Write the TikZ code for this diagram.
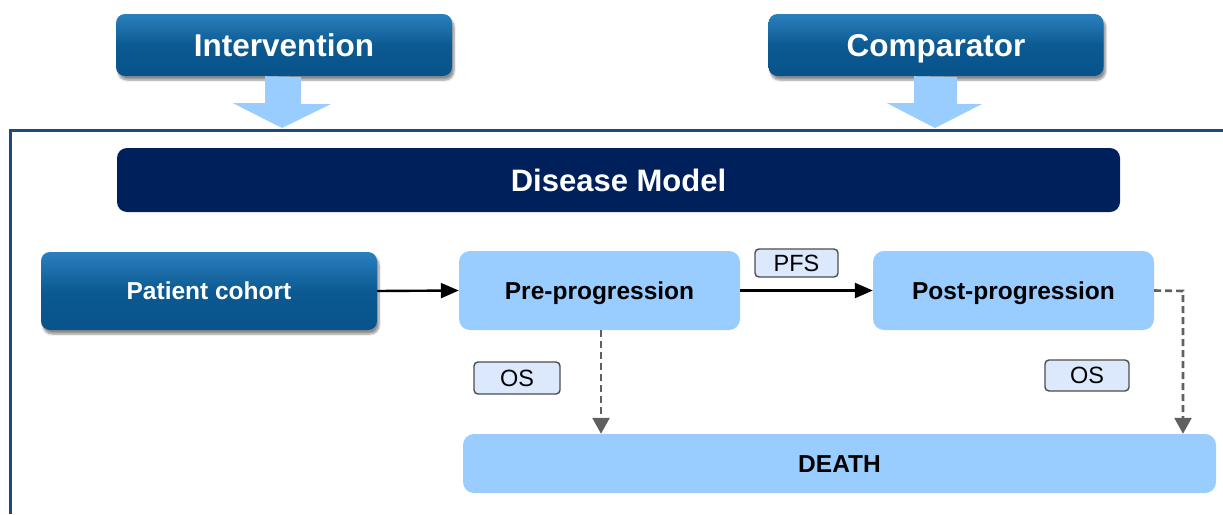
\documentclass[tikz,border=0pt]{standalone}
\usepackage{fontspec}
\setmainfont{Liberation Sans}
\usetikzlibrary{arrows.meta,shadows.blur}
\definecolor{boxtop}{HTML}{2A80BE}
\definecolor{boxbot}{HTML}{07538A}
\definecolor{navy}{HTML}{00205B}
\definecolor{framec}{HTML}{1F497D}
\definecolor{lightb}{HTML}{99CCFF}
\definecolor{tagfill}{HTML}{DCE8FC}
\definecolor{dashc}{HTML}{606060}
\tikzset{
  bigtext/.style={font=\fontsize{31.5}{34}\selectfont\bfseries, text height=22.6pt, text depth=0pt},
  midtext/.style={font=\fontsize{24.5}{28}\selectfont\bfseries, text height=17.5pt, text depth=0pt},
  bluebox/.style={rounded corners=9pt, top color=boxtop, bottom color=boxbot, middle color=boxbot!85!boxtop,
    text=white, inner sep=0pt,
    blur shadow={shadow xshift=2pt, shadow yshift=-4pt, shadow blur steps=6, shadow opacity=45}},
  statebox/.style={rounded corners=11pt, fill=lightb, text=black, midtext, inner sep=0pt},
  tagbox/.style={rounded corners=4pt, fill=tagfill, draw=black!70, line width=1.4pt, font=\fontsize{23.5}{26}\selectfont, text height=16.8pt, text depth=0pt, inner sep=0pt},
  solidarrow/.style={line width=2.4pt, -{Triangle[width=15pt,length=18pt]}},
  dasharrow/.style={draw=dashc, line width=2.6pt, dash pattern=on 7pt off 4pt, -{Triangle[width=17pt,length=16pt,fill=dashc]}},
  blockarrow/.style={fill=lightb, draw=none}
}
\begin{document}
\begin{tikzpicture}[x=1pt,y=-1pt]
\useasboundingbox (0,0) rectangle (1223,514);
% frame
\draw[framec, line width=3pt] (10,514) -- (10,130) -- (1223,130);
% top boxes
\node[bluebox, bigtext, minimum width=336pt, minimum height=62pt] (int) at (284,45) {Intervention};
\node[bluebox, bigtext, minimum width=335pt, minimum height=62pt] (comp) at (936,45) {Comparator};
% block arrows
\fill[blockarrow] (int.south) ++(-19,0) -- ++(0,27) -- ++(-32,0) -- (282,128) -- (331,104) -- ++(-30,0) -- ++(0,-27) -- cycle;
\fill[blockarrow] (comp.south) ++(-22,0) -- ++(0,27) -- ++(-27,0) -- (935,128) -- (982,104) -- ++(-25,0) -- ++(0,-27) -- cycle;
% disease model bar
\node[rounded corners=10pt, fill=navy, text=white, bigtext, font=\fontsize{31}{34}\selectfont\bfseries, inner sep=0pt, minimum width=1003pt, minimum height=64pt] (dm) at (618.5,180) {Disease Model};
% states
\node[bluebox, midtext, minimum width=336pt, minimum height=78pt] (pc) at (209,291) {Patient cohort};
\node[statebox, minimum width=281pt, minimum height=79pt] (pre) at (599.5,290.5) {Pre-progression};
\node[statebox, minimum width=281pt, minimum height=79pt] (post) at (1013.5,290.5) {Post-progression};
\node[statebox, minimum width=753pt, minimum height=59pt] (death) at (839.5,463.5) {DEATH};
% tags
\node[tagbox, minimum width=83pt, minimum height=28pt] (pfs) at (796.5,263) {PFS};
\node[tagbox, minimum width=86pt, minimum height=32pt] (os1) at (517,378) {OS};
\node[tagbox, minimum width=84pt, minimum height=31pt] (os2) at (1087,375.5) {OS};
% connectors
\draw[solidarrow] (pc.east) -- (pre.west);
\draw[solidarrow] (pre.east) -- (post.west);
\draw[dasharrow] (pre.south -| 601,0) -- (death.north -| 601,0);
\coordinate (bend) at (1183,291);
\draw[dasharrow] (post.east) -- (bend) -- (death.north -| bend);
\end{tikzpicture}
\end{document}
